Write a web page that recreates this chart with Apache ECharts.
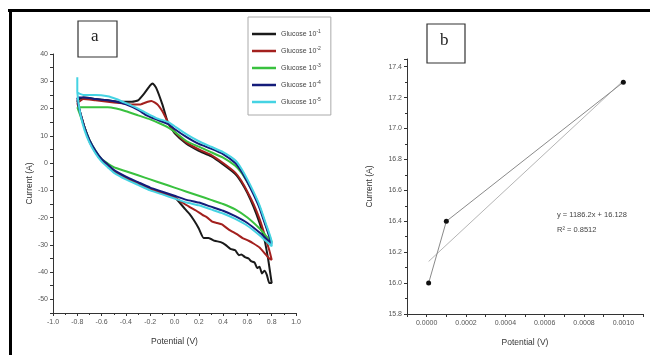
<!DOCTYPE html>
<html>
<head>
<meta charset="utf-8">
<script src="https://cdn.jsdelivr.net/npm/echarts@6/dist/echarts.min.js"></script>
<style>html,body{margin:0;padding:0;background:#fff;}#c{width:650px;height:355px;}</style>
</head>
<body>
<div id="c"></div>
<script>
// ---------- Panel a: cyclic voltammograms (x = potential V, y = current) ----------
const seriesNames = ['Glucose 10^-1', 'Glucose 10^-2', 'Glucose 10^-3', 'Glucose 10^-4', 'Glucose 10^-5'];

const cvBlack = [
  [-0.80,23],[-0.75,24],[-0.65,23.5],[-0.55,23],[-0.45,22.5],[-0.35,22.5],[-0.30,23],[-0.25,25.5],[-0.20,28.5],[-0.18,29.2],[-0.15,27.5],[-0.10,21.5],[-0.06,15.5],[-0.05,14.5],
  [0.00,11],[0.10,7],[0.20,4.5],[0.30,2.5],[0.40,-0.5],[0.50,-4],[0.55,-7],[0.60,-11],[0.65,-16],[0.70,-22],[0.74,-28],[0.77,-35],[0.79,-41],[0.80,-44],
  [0.78,-44],[0.76,-41],[0.74,-39.5],[0.72,-40.5],[0.70,-38],[0.68,-38.5],[0.66,-36.5],[0.63,-36],[0.61,-35],[0.58,-34.5],[0.55,-33.5],[0.53,-33.8],[0.50,-32],[0.46,-31.5],[0.42,-30],[0.38,-29],[0.33,-28.5],[0.28,-27.5],[0.24,-27.5],[0.20,-24],[0.16,-21],[0.12,-18.5],[0.08,-16.5],
  [0.00,-12.5],[-0.10,-11],[-0.20,-9.5],[-0.30,-7.5],[-0.40,-5.5],[-0.50,-3],[-0.60,1],[-0.65,4],[-0.70,8],[-0.74,13],[-0.77,17.5],[-0.79,21],[-0.80,23]
];
const cvRed = [
  [-0.80,22],[-0.75,23.5],[-0.65,23],[-0.55,22.5],[-0.45,22],[-0.35,21.5],[-0.28,21.5],[-0.22,22.5],[-0.19,22.8],[-0.14,21.5],[-0.10,19],[-0.06,15.5],[-0.05,14.5],
  [0.00,11.5],[0.10,7.5],[0.20,5],[0.30,3],[0.40,0],[0.50,-3.5],[0.55,-6.5],[0.60,-10.5],[0.65,-15],[0.70,-20.5],[0.74,-26],[0.78,-32],[0.80,-35.5],
  [0.78,-35],[0.74,-33],[0.70,-31],[0.65,-29.5],[0.61,-28.5],[0.56,-27.5],[0.51,-26],[0.45,-24.5],[0.39,-22.5],[0.35,-22],[0.31,-21.5],[0.27,-20],[0.23,-19],[0.18,-17.5],[0.12,-16],[0.05,-14],
  [0.00,-12.5],[-0.10,-11],[-0.20,-9.5],[-0.30,-7.5],[-0.40,-5.5],[-0.50,-3],[-0.60,1],[-0.65,4],[-0.70,8],[-0.74,13],[-0.77,17.5],[-0.79,20.5],[-0.80,22]
];
const cvGreen = [
  [-0.80,20.5],[-0.75,20.5],[-0.65,20.5],[-0.55,20.5],[-0.48,20],[-0.40,19],[-0.30,17.5],[-0.20,16],[-0.12,14.5],[-0.05,13],
  [0.00,11.5],[0.10,8],[0.20,6],[0.30,4],[0.40,2],[0.50,-1],[0.55,-3.5],[0.60,-7],[0.65,-11],[0.70,-16],[0.75,-22.5],[0.80,-29],
  [0.75,-26.5],[0.70,-24],[0.60,-20],[0.50,-17],[0.40,-15],[0.30,-13.5],[0.20,-12],[0.10,-10.5],[0.00,-9],[-0.10,-7.5],[-0.20,-6],[-0.30,-4.5],[-0.40,-3],[-0.50,-1.5],[-0.60,1.5],[-0.65,4.5],[-0.70,8.5],[-0.74,13],[-0.78,18],[-0.80,20.5]
];
const cvBlue = [
  [-0.80,24],[-0.75,24],[-0.65,23.5],[-0.55,23],[-0.48,22.5],[-0.40,21.5],[-0.30,19.5],[-0.23,17.5],[-0.15,16],[-0.05,14.3],
  [0.00,12.5],[0.10,9.5],[0.20,7],[0.30,5.3],[0.40,3.3],[0.50,0],[0.55,-3],[0.60,-7],[0.65,-11.5],[0.70,-16.5],[0.75,-23],[0.80,-29.5],
  [0.75,-27.5],[0.70,-25.5],[0.60,-22],[0.50,-19.5],[0.40,-17.5],[0.30,-16],[0.20,-14.5],[0.10,-13.5],[0.00,-12],[-0.10,-10.5],[-0.20,-9],[-0.30,-7],[-0.40,-5],[-0.50,-2.5],[-0.55,-0.5],[-0.60,1.5],[-0.65,4.5],[-0.70,8.5],[-0.74,13],[-0.77,17.5],[-0.79,21],[-0.80,24]
];
const cvCyan = [
  [-0.80,31.5],[-0.80,26],[-0.75,25],[-0.65,25],[-0.55,24.5],[-0.48,23.5],[-0.40,22],[-0.30,20],[-0.23,18.3],[-0.15,16.5],[-0.05,15],
  [0.00,13.5],[0.10,10.5],[0.20,8],[0.30,6],[0.40,4],[0.50,1],[0.55,-2],[0.60,-6],[0.65,-10.5],[0.70,-15.5],[0.75,-22],[0.80,-29],
  [0.80,-30.5],[0.75,-28.5],[0.70,-26.5],[0.60,-23],[0.50,-20.5],[0.40,-18.5],[0.30,-17],[0.20,-15.5],[0.10,-14.5],[0.00,-13],[-0.10,-11.5],[-0.20,-10],[-0.30,-8],[-0.40,-6],[-0.50,-3.5],[-0.55,-1.5],[-0.60,0.5],[-0.65,3.5],[-0.70,7.5],[-0.74,12],[-0.77,17],[-0.79,22],[-0.80,26]
];
const cvData = [cvBlack, cvRed, cvGreen, cvBlue, cvCyan];
const cvColors = ['#1a1a1a', '#a3201e', '#39c13f', '#141c7a', '#45d3e3'];

// ---------- Panel b: calibration points ----------
const calX = [0.00001, 0.0001, 0.001];
const calY = [16.0, 16.4, 17.3];
const fitLine = [[0.00001, 16.14], [0.001, 17.31]];
const fitText = ['y = 1186.2x + 16.128', 'R\u00B2 = 0.8512'];

const FONT = 'Liberation Sans, Arial, sans-serif';
const labelStyle = {fontSize: 7, color: '#555', fontFamily: FONT};
const nameStyle = {fontSize: 8.5, color: '#333', fontFamily: FONT};
const axisLine = {onZero: false, lineStyle: {color: '#333', width: 1}};

const chart = echarts.init(document.getElementById('c'), null, {renderer: 'canvas'});

const series = cvData.map((d, i) => ({
  name: seriesNames[i], type: 'line', xAxisIndex: 0, yAxisIndex: 0,
  data: d, showSymbol: false, symbol: 'none', smooth: 0.15,
  lineStyle: {color: cvColors[i], width: 2}, itemStyle: {color: cvColors[i]},
  animation: false, z: 2 + i
}));
series.push({
  type: 'line', xAxisIndex: 1, yAxisIndex: 1, data: fitLine, symbol: 'none',
  lineStyle: {color: '#b5b5b5', width: 1}, animation: false
});
series.push({
  type: 'line', xAxisIndex: 1, yAxisIndex: 1,
  data: calX.map((x, i) => [x, calY[i]]),
  symbol: 'circle', symbolSize: 5, itemStyle: {color: '#111'},
  lineStyle: {color: '#8a8a8a', width: 1}, animation: false
});

chart.setOption({
  animation: false,
  backgroundColor: '#fff',
  grid: [
    {left: 53, top: 54, width: 243, height: 259},
    {left: 407, top: 59, width: 236, height: 255}
  ],
  legend: {
    data: seriesNames, orient: 'vertical', left: 248, top: 17,
    icon: 'rect', itemWidth: 24, itemHeight: 2.5, itemGap: 7,
    padding: [12, 10, 8, 4], borderColor: '#aaa', borderWidth: 1,
    formatter: n => { const p = n.split('^'); return '{t|' + p[0] + '}{s|' + p[1] + '}'; },
    textStyle: {fontSize: 7, color: '#444', fontFamily: FONT, lineHeight: 10,
      rich: {t: {fontSize: 7, color: '#444', fontFamily: FONT, lineHeight: 10},
             s: {fontSize: 5, color: '#444', fontFamily: FONT, lineHeight: 10, verticalAlign: 'top', padding: [0, 0, 4, 0]}}}
  },
  xAxis: [
    {type: 'value', gridIndex: 0, min: -1.0, max: 1.0, interval: 0.2,
     name: 'Potential (V)', nameLocation: 'middle', nameGap: 24, nameTextStyle: nameStyle,
     axisLine: axisLine, axisTick: {length: 3, lineStyle: {color: '#333'}},
     minorTick: {show: true, splitNumber: 2, length: 2, lineStyle: {color: '#333'}},
     splitLine: {show: false},
     axisLabel: Object.assign({margin: 6, formatter: v => Math.abs(v) < 1e-9 ? '0.0' : v.toFixed(1)}, labelStyle)},
    {type: 'value', gridIndex: 1, min: -0.0001, max: 0.0011, interval: 0.0001,
     name: 'Potential (V)', nameLocation: 'middle', nameGap: 24, nameTextStyle: nameStyle,
     axisLine: axisLine, axisTick: {length: 3, lineStyle: {color: '#333'}},
     splitLine: {show: false},
     axisLabel: Object.assign({margin: 6, formatter: v => { const k = Math.round(v / 0.0001); return (k >= 0 && k % 2 === 0) ? (k * 0.0001).toFixed(4) : ''; }}, labelStyle)}
  ],
  yAxis: [
    {type: 'value', gridIndex: 0, min: -55, max: 40, interval: 5,
     name: 'Current (A)', nameLocation: 'middle', nameGap: 19, nameTextStyle: nameStyle,
     axisLine: axisLine, axisTick: {length: 3, lineStyle: {color: '#333'}},
     splitLine: {show: false},
     axisLabel: Object.assign({margin: 5, formatter: v => { const r = Math.round(v); return r % 10 === 0 ? String(r) : ''; }}, labelStyle)},
    {type: 'value', gridIndex: 1, min: 15.8, max: 17.45, interval: 0.2,
     name: 'Current (A)', nameLocation: 'middle', nameGap: 33, nameTextStyle: nameStyle,
     axisLine: axisLine, axisTick: {length: 3, lineStyle: {color: '#333'}},
     minorTick: {show: true, splitNumber: 2, length: 2, lineStyle: {color: '#333'}},
     splitLine: {show: false},
     axisLabel: Object.assign({margin: 5, showMaxLabel: false, formatter: v => v.toFixed(1)}, labelStyle)}
  ],
  graphic: [
    {type: 'rect', shape: {x: 8, y: 9, width: 642, height: 3}, style: {fill: '#000'}, silent: true},
    {type: 'rect', shape: {x: 9, y: 9, width: 3, height: 346}, style: {fill: '#000'}, silent: true},
    {type: 'rect', shape: {x: 78, y: 21, width: 39, height: 36}, style: {fill: '#fff', stroke: '#333', lineWidth: 1.2}, z: 10},
    {type: 'text', left: 91, top: 28, z: 11, style: {text: 'a', font: '17px "Liberation Serif", "Times New Roman", serif', fill: '#222'}},
    {type: 'rect', shape: {x: 427, y: 24, width: 38, height: 39}, style: {fill: '#fff', stroke: '#333', lineWidth: 1.2}, z: 10},
    {type: 'text', left: 440, top: 32, z: 11, style: {text: 'b', font: '17px "Liberation Serif", "Times New Roman", serif', fill: '#222'}},
    {type: 'text', left: 557, top: 211, z: 11, style: {text: fitText[0], font: '7.5px "Liberation Sans", Arial, sans-serif', fill: '#444'}},
    {type: 'text', left: 557, top: 226, z: 11, style: {text: fitText[1], font: '7.5px "Liberation Sans", Arial, sans-serif', fill: '#444'}}
  ],
  series: series
});
</script>
</body>
</html>
